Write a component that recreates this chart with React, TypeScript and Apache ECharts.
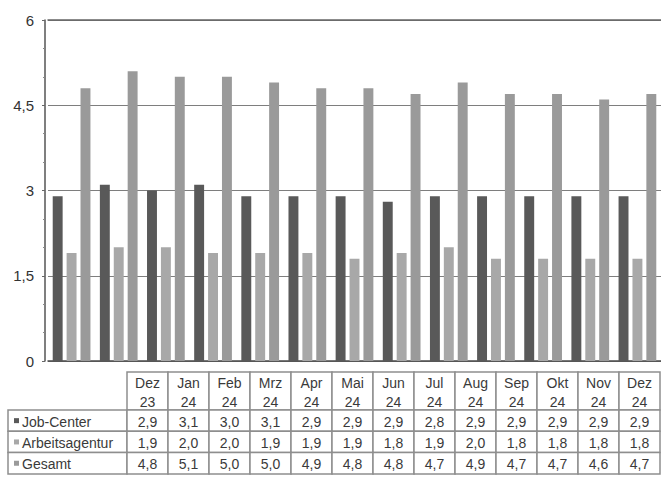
import React, { useEffect, useRef } from "react";
import * as echarts from "echarts";

const categories = ["Dez 23", "Jan 24", "Feb 24", "Mrz 24", "Apr 24", "Mai 24", "Jun 24", "Jul 24", "Aug 24", "Sep 24", "Okt 24", "Nov 24", "Dez 24"];
const jobCenter = [2.9, 3.1, 3.0, 3.1, 2.9, 2.9, 2.9, 2.8, 2.9, 2.9, 2.9, 2.9, 2.9];
const arbeitsagentur = [1.9, 2.0, 2.0, 1.9, 1.9, 1.9, 1.8, 1.9, 2.0, 1.8, 1.8, 1.8, 1.8];
const gesamt = [4.8, 5.1, 5.0, 5.0, 4.9, 4.8, 4.8, 4.7, 4.9, 4.7, 4.7, 4.6, 4.7];
const seriesNames = ["Job-Center", "Arbeitsagentur", "Gesamt"];
const seriesColors = ["#595959", "#a8a8a8", "#9a9a9a"];
const yTicks = { min: 0, max: 6, interval: 1.5 };

const FONT = "'Liberation Sans', Arial, sans-serif";
const TEXT = "#3a3a3a";

const fmt = (v: number) => v.toFixed(1).replace(".", ",");

function buildTable(): any[] {
  const els: any[] = [];
  const x0 = 127;
  const colW = 41;
  const labelX = 8;
  const headTop = 372;
  const headH = 38;
  const rowH = 21.3;
  const border = { stroke: "#8e8e8e", lineWidth: 1.5, fill: "#fff" };
  const rows = [jobCenter, arbeitsagentur, gesamt];

  categories.forEach((c, i) => {
    const x = x0 + i * colW;
    els.push({ type: "rect", shape: { x, y: headTop, width: colW, height: headH }, style: { ...border } });
    els.push({
      type: "text",
      x: x + colW / 2,
      y: headTop + headH / 2 + 1,
      style: { text: c.replace(" ", "\n"), fill: TEXT, font: `14px ${FONT}`, align: "center", verticalAlign: "middle", lineHeight: 19 },
    });
  });

  rows.forEach((vals, r) => {
    const y = headTop + headH + r * rowH;
    els.push({ type: "rect", shape: { x: labelX, y, width: x0 - labelX, height: rowH }, style: { ...border } });
    els.push({ type: "rect", shape: { x: 14, y: y + rowH / 2 - 2.5, width: 5, height: 5 }, style: { fill: seriesColors[r] } });
    els.push({
      type: "text",
      x: 22,
      y: y + rowH / 2 + 1,
      style: { text: seriesNames[r], fill: TEXT, font: `14px ${FONT}`, align: "left", verticalAlign: "middle" },
    });
    vals.forEach((v, i) => {
      const x = x0 + i * colW;
      els.push({ type: "rect", shape: { x, y, width: colW, height: rowH }, style: { ...border } });
      els.push({
        type: "text",
        x: x + colW / 2,
        y: y + rowH / 2 + 1,
        style: { text: fmt(v), fill: TEXT, font: `14px ${FONT}`, align: "center", verticalAlign: "middle" },
      });
    });
  });
  return els;
}

export default function App() {
  const ref = useRef<HTMLDivElement>(null);
  useEffect(() => {
    if (!ref.current) return;
    const chart = echarts.init(ref.current, null, { renderer: "svg" });
    const seriesData = [jobCenter, arbeitsagentur, gesamt];
    chart.setOption({
      animation: false,
      backgroundColor: "#ffffff",
      grid: { left: 48, top: 20, width: 615.3, height: 341 },
      xAxis: [
        {
          type: "category",
          data: categories,
          position: "bottom",
          axisLine: { show: true, lineStyle: { color: "#4a4a4a", width: 1.5 } },
          axisTick: { show: false },
          axisLabel: { show: false },
        },
        {
          type: "category",
          data: categories,
          position: "top",
          axisLine: { show: true, lineStyle: { color: "#666", width: 1.5 } },
          axisTick: { show: false },
          axisLabel: { show: false },
        },
      ],
      yAxis: {
        type: "value",
        min: yTicks.min,
        max: yTicks.max,
        interval: yTicks.interval,
        offset: 3,
        axisLine: { show: true, lineStyle: { color: "#555", width: 1.5 } },
        axisTick: { show: true, length: 3, lineStyle: { color: "#666" } },
        minorTick: { show: true, splitNumber: 3, length: 2, lineStyle: { color: "#888" } },
        splitLine: { show: true, lineStyle: { color: "#7e7e7e", width: 1.2 } },
        axisLabel: {
          margin: 11,
          color: "#333",
          fontSize: 15,
          fontFamily: FONT,
          formatter: (v: number) => String(v).replace(".", ","),
        },
      },
      series: seriesData.map((d, i) => ({
        name: seriesNames[i],
        type: "bar",
        xAxisIndex: 0,
        data: d,
        barGap: "40%",
        barCategoryGap: "20%",
        itemStyle: { color: seriesColors[i] },
      })),
      graphic: buildTable(),
    });
    return () => chart.dispose();
  }, []);
  return (
    <div
      ref={ref}
      style={{ position: "fixed", left: 0, top: 0, width: 661, height: 490, background: "#fff" }}
    />
  );
}
